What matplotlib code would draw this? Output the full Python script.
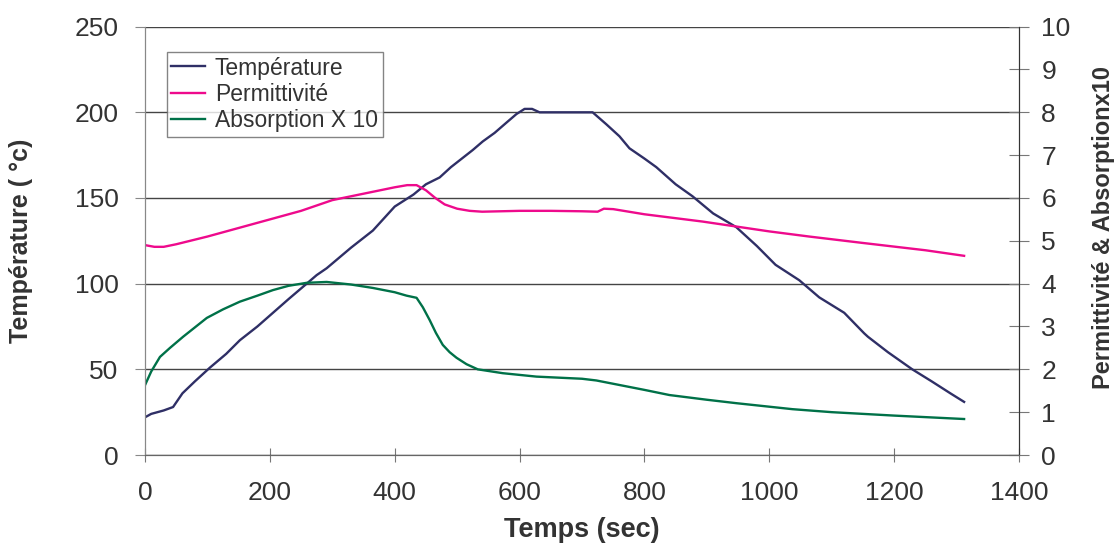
import matplotlib
matplotlib.use('Agg')
import matplotlib.pyplot as plt

plt.rcParams['font.family'] = ['Liberation Sans', 'DejaVu Sans']

# temperature (left axis)
t_temp = [0, 10, 30, 45, 60, 80, 104, 130, 152, 180, 205, 230, 259, 275, 291, 330, 365,
          400, 430, 450, 472, 490, 504, 525, 541, 560, 579, 595, 608, 620, 632, 680, 717,
          739, 760, 776, 800, 819, 850, 877, 910, 947, 980, 1010, 1048, 1080, 1120, 1152,
          1158, 1190, 1229, 1260, 1290, 1312]
temp = [22, 24, 26, 28, 36, 43, 51, 59, 67, 75, 83, 91, 100, 105, 109, 121, 131,
        145, 152, 158, 162, 168, 172, 178, 183, 188, 194, 199, 202, 202, 200, 200, 200,
        193, 186, 179, 173, 168, 158, 151, 141, 133, 122, 111, 102, 92, 83, 71,
        69, 60, 50, 43, 36, 31]

# permittivity (right axis)
t_perm = [0, 15, 30, 50, 100, 150, 200, 250, 300, 350, 400, 420, 435, 450, 465, 480, 500,
          520, 540, 600, 650, 700, 725, 735, 750, 800, 893, 1000, 1064, 1150, 1250, 1312]
perm = [4.9, 4.86, 4.86, 4.92, 5.1, 5.3, 5.5, 5.7, 5.95, 6.1, 6.25, 6.3, 6.3, 6.18, 6.0,
        5.85, 5.75, 5.7, 5.68, 5.7, 5.7, 5.69, 5.68, 5.75, 5.74, 5.62, 5.45, 5.22, 5.1,
        4.95, 4.78, 4.65]

# absorption x10 (right axis)
t_abs = [0, 10, 24, 40, 61, 80, 99, 125, 152, 180, 205, 230, 259, 291, 330, 365, 400, 419,
         435, 445, 456, 466, 477, 488, 499, 515, 533, 573, 627, 700, 723, 744, 800, 840,
         900, 947, 1037, 1100, 1200, 1312]
absorp = [1.63, 1.95, 2.29, 2.5, 2.76, 2.98, 3.2, 3.4, 3.58, 3.72, 3.85, 3.95, 4.02, 4.04,
          3.98, 3.9, 3.8, 3.72, 3.67, 3.45, 3.15, 2.85, 2.57, 2.4, 2.27, 2.12, 2.0, 1.91,
          1.83, 1.78, 1.74, 1.68, 1.52, 1.40, 1.29, 1.21, 1.07, 1.0, 0.92, 0.84]

c_temp = '#2f2f66'
c_perm = '#ee0a8c'
c_abs = '#007148'
txt = '#333333'

fig = plt.figure(figsize=(11.17, 5.44), dpi=100)
ax = fig.add_axes([0.1298, 0.1636, 0.7825, 0.7874])
ax2 = ax.twinx()

l1, = ax.plot(t_temp, temp, color=c_temp, lw=1.7, label='Température')
l2, = ax2.plot(t_perm, perm, color=c_perm, lw=1.7, label='Permittivité')
l3, = ax2.plot(t_abs, absorp, color=c_abs, lw=1.7, label='Absorption X 10')

ax.set_xlim(0, 1400)
ax.set_ylim(0, 250)
ax2.set_ylim(0, 10)
ax.set_xticks(range(0, 1401, 200))
ax.set_yticks(range(0, 251, 50))
ax2.set_yticks(range(0, 11, 1))
ax.yaxis.grid(True, color='#444444', lw=1)
ax.set_axisbelow(True)

for a in (ax, ax2):
    a.spines['top'].set_visible(False)
    a.spines['left'].set_color('#888888')
    a.spines['bottom'].set_color('#666666')
    a.spines['right'].set_color('#333333')
ax.tick_params(axis='y', labelsize=19, colors=txt, length=7, color='#888888', pad=12)
ax.tick_params(axis='x', labelsize=19, colors=txt, length=10, direction='inout', color='#777777', pad=14)
ax2.tick_params(axis='y', labelsize=19, colors=txt, length=14, direction='inout', color='#777777', pad=9)

ax.set_xlabel('Temps (sec)', fontsize=19.5, fontweight='bold', color=txt)
ax.set_ylabel('Température ( °c)', fontsize=18, fontweight='bold', color=txt)
ax2.set_ylabel('Permittivité & Absorptionx10', fontsize=17, fontweight='bold', color=txt)
ax.xaxis.set_label_coords(0.5, -0.145)
ax.yaxis.set_label_coords(-0.128, 0.5)
ax2.yaxis.set_label_coords(1.083, 0.53)

leg = ax.legend(handles=[l1, l2, l3], loc='upper left', bbox_to_anchor=(0.025, 0.941),
                fontsize=16.5, frameon=True, fancybox=False, handlelength=1.45,
                borderpad=0.2, labelspacing=0.14, handletextpad=0.45, borderaxespad=0)
leg.get_frame().set_edgecolor('#666666')
leg.get_frame().set_linewidth(1)
for t in leg.get_texts():
    t.set_color(txt)

fig.savefig('out.png', dpi=100)
